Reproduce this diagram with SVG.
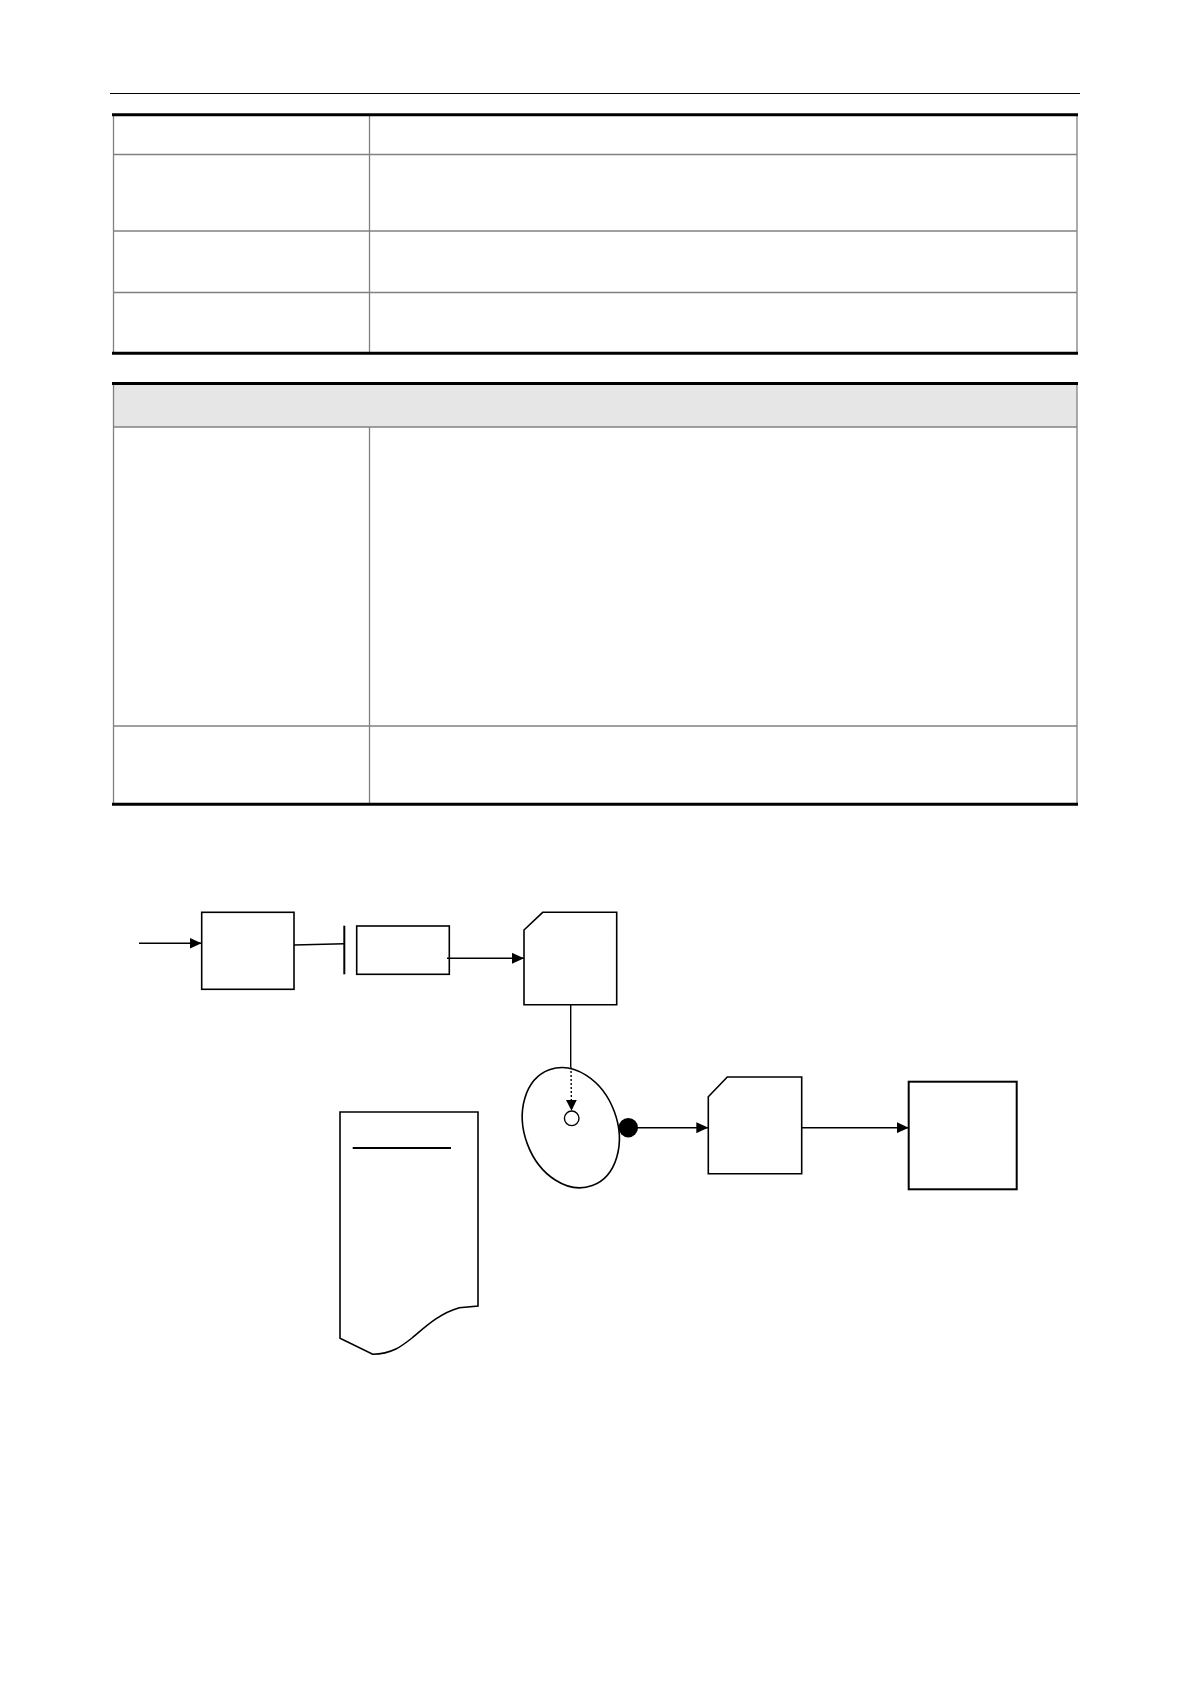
<svg xmlns="http://www.w3.org/2000/svg" width="1190" height="1684" viewBox="0 0 1190 1684">
<defs>
<style>
.thin{stroke:#808080;stroke-width:1.3;fill:none}
.thick{stroke:#000;stroke-width:3;fill:none}
.node{fill:#fff;stroke:#000;stroke-width:1.6}
.conn{stroke:#000;stroke-width:1.4;fill:none}
</style>
<marker id="ah" viewBox="0 0 12 11" refX="12" refY="5.5" markerWidth="12" markerHeight="11" markerUnits="userSpaceOnUse" orient="auto">
<path d="M0,0 L12,5.5 L0,11 Z" fill="#000"/>
</marker>
<marker id="ahs" viewBox="0 0 11 11" refX="11" refY="5.5" markerWidth="11" markerHeight="11" markerUnits="userSpaceOnUse" orient="auto">
<path d="M0,0 L11,5.5 L0,11 Z" fill="#000"/>
</marker>
</defs>
<rect width="1190" height="1684" fill="#fff"/>
<line x1="110" y1="93.5" x2="1080" y2="93.5" stroke="#000" stroke-width="1.2"/>
<g id="table1">
<line class="thin" x1="113.5" y1="114" x2="113.5" y2="353"/>
<line class="thin" x1="1077" y1="114" x2="1077" y2="353"/>
<line class="thin" x1="369.5" y1="114" x2="369.5" y2="353"/>
<line class="thin" x1="113" y1="154.5" x2="1077" y2="154.5"/>
<line class="thin" x1="113" y1="231" x2="1077" y2="231"/>
<line class="thin" x1="113" y1="292.5" x2="1077" y2="292.5"/>
<line class="thick" x1="112" y1="114.7" x2="1078" y2="114.7"/>
<line class="thick" x1="112" y1="353.3" x2="1078" y2="353.3"/>
</g>
<g id="table2">
<rect x="113.5" y="385" width="963.5" height="42" fill="#e6e6e6"/>
<line class="thin" x1="113.5" y1="384" x2="113.5" y2="804"/>
<line class="thin" x1="1077" y1="384" x2="1077" y2="804"/>
<line class="thin" x1="369.5" y1="427" x2="369.5" y2="804"/>
<line class="thin" x1="113" y1="427" x2="1077" y2="427"/>
<line class="thin" x1="113" y1="726" x2="1077" y2="726"/>
<line class="thick" x1="112" y1="383.5" x2="1078" y2="383.5"/>
<line class="thick" x1="112" y1="804.2" x2="1078" y2="804.2"/>
</g>
<g id="node-box1"><rect class="node" x="201.7" y="912.3" width="92.3" height="77"/></g>
<g id="node-box2"><rect class="node" x="356.7" y="926" width="92.6" height="48.3"/></g>
<g id="node-card1"><path class="node" d="M524,930 L542.7,912.3 L616.7,912.3 L616.7,1004.7 L524,1004.7 Z"/></g>
<g id="node-disk">
<ellipse class="node" cx="570.8" cy="1127.7" rx="46.4" ry="61.7" transform="rotate(-20.4 570.8 1127.7)"/>
<circle cx="571.7" cy="1118.3" r="7.3" fill="#fff" stroke="#000" stroke-width="1.4"/>
</g>
<g id="node-dot"><circle cx="628.3" cy="1127.7" r="9.7" fill="#000"/></g>
<g id="node-card2"><path class="node" d="M708.3,1096.7 L727.3,1077 L801.7,1077 L801.7,1173.7 L708.3,1173.7 Z"/></g>
<g id="node-box3"><rect x="908.7" y="1081.7" width="108" height="107.6" fill="#fff" stroke="#000" stroke-width="2"/></g>
<g id="node-document">
<path class="node" d="M340,1112 L478,1112 L478,1306 L459.3,1307.7 C440,1313 425,1327 412,1338 C402,1346 392,1354 372.7,1354.3 L340,1338.3 Z"/>
<line x1="352.7" y1="1148" x2="451" y2="1148" stroke="#000" stroke-width="2.2"/>
</g>
<g id="connectors">
<line class="conn" x1="139" y1="943.3" x2="201.5" y2="943.3" marker-end="url(#ah)"/>
<line class="conn" x1="294" y1="945" x2="344" y2="943.7"/>
<line x1="344.3" y1="925.7" x2="344.3" y2="974.3" stroke="#000" stroke-width="2"/>
<line class="conn" x1="447" y1="958.3" x2="524" y2="958.3" marker-end="url(#ah)"/>
<line class="conn" x1="570.7" y1="1005" x2="570.7" y2="1067"/>
<line x1="571" y1="1067" x2="571.5" y2="1110.8" stroke="#000" stroke-width="1.4" stroke-dasharray="2,2" marker-end="url(#ahs)"/>
<line class="conn" x1="637" y1="1127.7" x2="708.3" y2="1127.7" marker-end="url(#ah)"/>
<line class="conn" x1="801.7" y1="1127.7" x2="908.7" y2="1127.7" marker-end="url(#ah)"/>
</g>
</svg>
